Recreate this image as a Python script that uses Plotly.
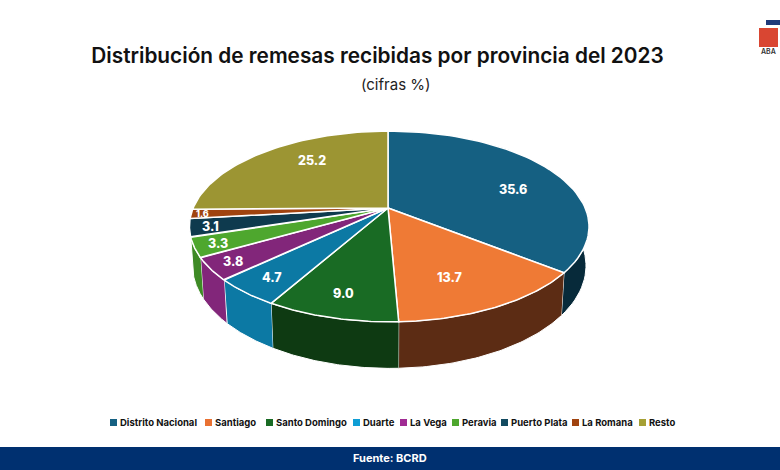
import numpy as np
import plotly.graph_objects as go

# ================= DATA =================
PROVINCIAS = ["Distrito Nacional", "Santiago", "Santo Domingo", "Duarte", "La Vega",
              "Peravia", "Puerto Plata", "La Romana", "Resto"]
VALORES = [35.6, 13.7, 9.0, 4.7, 3.8, 3.3, 3.1, 1.6, 25.2]

# ================= COLORS =================
TOP_COLORS = ["#156082", "#EF7A35", "#196B24", "#0C79A4", "#82267A",
              "#4EA72E", "#0E3A4E", "#A0430F", "#9C9533"]
WALL_COLORS = ["#072A3A", "#5C2C14", "#0E3A12", "#0C79A4", "#82267A", "#3E8A25"]
LEGEND_COLORS = ["#156082", "#E97132", "#196B24", "#0F9ED5", "#A02B93",
                 "#4EA72E", "#124A60", "#A0430F", "#A5A035"]
NAVY = "#003070"
FONT = "Inter"

# ================= LAYOUT (axes run in page pixels) =================
W, H = 780, 470
CX, CY = 388, 208   # apex of the pie
A, B = 196, 91.8    # radii before perspective
K, J = 0.1937, -0.006   # perspective strength, front/back and left/right
DEPTH = 37.5
BASE_SCALE = 0.985

LABEL_XY = [(513, 189), (449, 277), (343, 293), (272, 277), (233, 261),
            (218, 243), (210, 226), (202, 213), (312, 160)]
LEGEND_X = [110, 205, 266, 353, 400, 452, 501, 572, 639]


def top_rim(theta):
    u, v = np.sin(theta), np.cos(theta)
    w = 1 + K * v + J * u
    return CX + A * u / w, CY - B * v / w


def base_rim(theta):
    u, v = np.sin(theta), np.cos(theta)
    w = 1 + K * v + J * u
    return CX + BASE_SCALE * A * u / w, CY - B * v / w + DEPTH / w


edges = np.cumsum([0] + VALORES) / sum(VALORES) * 2 * np.pi

fig = go.Figure()

# ===== WALLS (only the slices that face the viewer) =====
for i, color in enumerate(WALL_COLORS):
    t = np.linspace(edges[i], edges[i + 1], 60)
    x1, y1 = top_rim(t)
    x2, y2 = base_rim(t[::-1])
    fig.add_trace(go.Scatter(
        x=np.r_[x1, x2], y=np.r_[y1, y2], mode="lines", fill="toself",
        fillcolor=color, line=dict(color="white", width=1),
        hoverinfo="skip", showlegend=False))

# ===== TOP FACE =====
for i, name in enumerate(PROVINCIAS):
    t = np.linspace(edges[i], edges[i + 1], 60)
    x1, y1 = top_rim(t)
    fig.add_trace(go.Scatter(
        x=np.r_[CX, x1, CX], y=np.r_[CY, y1, CY], mode="lines", fill="toself",
        fillcolor=TOP_COLORS[i], line=dict(color="white", width=1.5),
        name=name, text=f"{name}: {VALORES[i]:.1f}%", hoverinfo="text", showlegend=False))

# ===== SLICE LABELS =====
annotations = []
for i, v in enumerate(VALORES):
    annotations.append(dict(
        x=LABEL_XY[i][0], y=LABEL_XY[i][1], text=f"{v:.1f}", showarrow=False,
        font=dict(family=FONT, size=9 if v < 2 else 12.5, color="white", weight=800)))

# ===== LEGEND =====
shapes = []
for i, name in enumerate(PROVINCIAS):
    shapes.append(dict(type="rect", x0=LEGEND_X[i], x1=LEGEND_X[i] + 7, y0=419, y1=426,
                       fillcolor=LEGEND_COLORS[i], line=dict(width=0)))
    annotations.append(dict(
        x=LEGEND_X[i] + 8, y=422.5, text=name, showarrow=False, xanchor="left",
        font=dict(family=FONT, size=9.5, color="#111111", weight=700)))

# ===== HEADER / FOOTER =====
annotations.append(dict(x=395, y=84, text="(cifras %)", showarrow=False,
                        font=dict(family=FONT, size=15, color="#222222")))
annotations.append(dict(x=390, y=458, text="Fuente: BCRD", showarrow=False,
                        font=dict(family=FONT, size=11, color="white", weight=700)))
annotations.append(dict(x=768, y=51.5, text="ABA", showarrow=False,
                        font=dict(family=FONT, size=7, color="#333333", weight=600)))

shapes.append(dict(type="rect", x0=0, x1=W, y0=447, y1=H, fillcolor=NAVY, line=dict(width=0)))
shapes.append(dict(type="rect", x0=766, x1=W, y0=20, y1=25, fillcolor="#1F3A7A", line=dict(width=0)))
shapes.append(dict(type="rect", x0=759, x1=778, y0=28, y1=47, fillcolor="#D94632", line=dict(width=0)))

fig.update_layout(
    width=W, height=H, margin=dict(l=0, r=0, t=0, b=0),
    paper_bgcolor="white", plot_bgcolor="white",
    title=dict(text="Distribución de remesas recibidas por provincia del 2023",
               x=377.5 / W, y=1 - 56 / H, xanchor="center", yanchor="middle",
               font=dict(family=FONT, size=20.8, color="#111111", weight=600)),
    xaxis=dict(range=[0, W], visible=False, fixedrange=True),
    yaxis=dict(range=[H, 0], visible=False, fixedrange=True),
    annotations=annotations, shapes=shapes, showlegend=False)

# page has a default body margin that would push the figure off the window
fig.write_html("out.html", config={"displayModeBar": False},
               post_script="document.body.style.margin='0';document.documentElement.style.overflow='hidden';")
